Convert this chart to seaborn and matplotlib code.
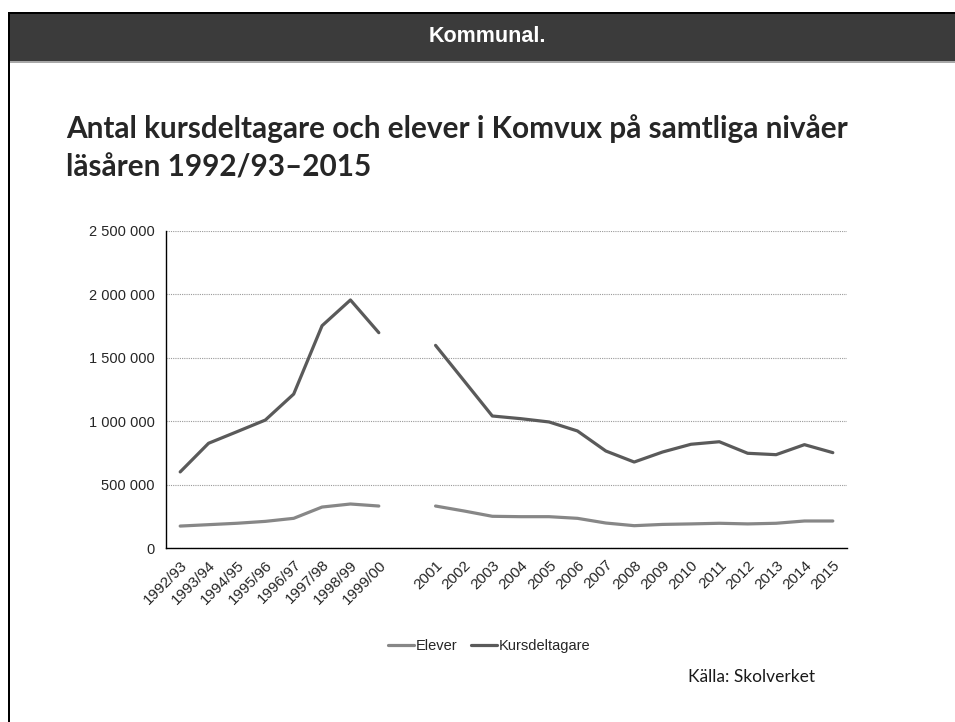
import numpy as np
import pandas as pd
import matplotlib
matplotlib.use('Agg')
import matplotlib.pyplot as plt
from matplotlib.patches import Rectangle
from matplotlib.ticker import FuncFormatter
import seaborn as sns

# Läsår (tom kategori mellan 1999/00 och 2001, som i originalet)
kategorier = ['1992/93', '1993/94', '1994/95', '1995/96', '1996/97', '1997/98',
              '1998/99', '1999/00', '', '2001', '2002', '2003', '2004', '2005',
              '2006', '2007', '2008', '2009', '2010', '2011', '2012', '2013',
              '2014', '2015']

kursdeltagare = [600000, 826000, 917000, 1009000, 1214000, 1753000, 1956000, 1698000,
                 np.nan, 1598000, 1320000, 1041000, 1020000, 994000, 923000, 765000,
                 678000, 757000, 818000, 838000, 747000, 736000, 815000, 752000]

elever = [173000, 184000, 195000, 210000, 234000, 323000, 347000, 331000,
          np.nan, 331000, 292000, 250000, 247000, 247000, 234000, 197000,
          176000, 186000, 190000, 195000, 190000, 195000, 213000, 213000]

serier = ['Elever', 'Kursdeltagare']
farger = {'Elever': '#878787', 'Kursdeltagare': '#5a5a5a'}

# Långt format, segment för att behålla luckan
pos = np.arange(len(kategorier))
segment = np.where(pos < 8, 0, 1)
df = pd.concat([
    pd.DataFrame({'pos': pos, 'Antal': elever, 'Serie': 'Elever', 'segment': segment}),
    pd.DataFrame({'pos': pos, 'Antal': kursdeltagare, 'Serie': 'Kursdeltagare', 'segment': segment}),
]).dropna()

sns.set_style('white')
plt.rcParams['font.family'] = ['Liberation Sans', 'DejaVu Sans']

W, H = 955, 722
fig = plt.figure(figsize=(W / 100, H / 100), dpi=100)

# Bildram och mörk rubrikrad
fig.patches.append(Rectangle((9 / W, 1 - 62 / H), 1, 50 / H, transform=fig.transFigure,
                             facecolor='#3b3b3b', edgecolor='none', zorder=0))
fig.patches.append(Rectangle((9 / W, 1 - 63 / H), 1, 1.5 / H, transform=fig.transFigure,
                             facecolor='#a8a8a8', edgecolor='none', zorder=0))
fig.patches.append(Rectangle((8 / W, 1 - 13.5 / H), 1, 2 / H, transform=fig.transFigure,
                             facecolor='black', edgecolor='none', zorder=1))
fig.patches.append(Rectangle((8 / W, 0), 2.2 / W, 1 - 11.5 / H, transform=fig.transFigure,
                             facecolor='black', edgecolor='none', zorder=1))

fig.text(487 / W, 1 - 36 / H, 'Kommunal.', color='white', fontsize=15.5,
         fontweight='bold', ha='center', va='center')

fig.text(66 / W, 1 - 138 / H, 'Antal kursdeltagare och elever i Komvux på samtliga nivåer',
         fontsize=21.4, fontweight='bold', family='Lato', ha='left', va='baseline')
fig.text(66 / W, 1 - 177 / H, 'läsåren 1992/93–2015',
         fontsize=21.4, fontweight='bold', family='Lato', ha='left', va='baseline')

fig.text(688 / W, 1 - 682 / H, 'Källa: Skolverket', fontsize=12.5, family='Lato',
         ha='left', va='baseline', color='#1a1a1a')

ax = fig.add_axes([166 / W, 1 - 548 / H, 681 / W, 317 / H])
sns.lineplot(data=df, x='pos', y='Antal', hue='Serie', hue_order=serier,
             units='segment', estimator=None, palette=farger, linewidth=2.3, ax=ax)

ax.set_xlim(-0.5, len(kategorier) - 0.5)
ax.set_ylim(0, 2500000)
ax.set_yticks(np.arange(0, 2500001, 500000))
ax.yaxis.set_major_formatter(FuncFormatter(lambda v, p: f'{int(v):,}'.replace(',', ' ')))
ax.set_xticks(pos)
ax.set_xticklabels(kategorier, rotation=45, ha='right', rotation_mode='anchor')
ax.set_xticks(np.arange(-0.5, len(kategorier), 1), minor=True)
ax.tick_params(axis='x', which='major', length=0, pad=7, labelsize=11)
ax.tick_params(axis='x', which='minor', length=4, color='#a0a0a0', width=0.8)
ax.tick_params(axis='y', length=4, color='#a0a0a0', width=0.8, labelsize=10.5, pad=4)
ax.set_xlabel('')
ax.set_ylabel('')

ax.yaxis.grid(True, color='#9a9a9a', linestyle=(0, (1, 1)), linewidth=0.8)
ax.set_axisbelow(True)
for s in ['top', 'right']:
    ax.spines[s].set_visible(False)
for s in ['left', 'bottom']:
    ax.spines[s].set_color('black')
    ax.spines[s].set_linewidth(1)

sns.move_legend(ax, 'center', bbox_to_anchor=(489 / W, 1 - 646 / H),
                bbox_transform=fig.transFigure, ncol=2, frameon=False, title=None,
                fontsize=10.5, handlelength=1.8, handletextpad=0.1, columnspacing=0.9)

fig.savefig('out.png', dpi=100)
